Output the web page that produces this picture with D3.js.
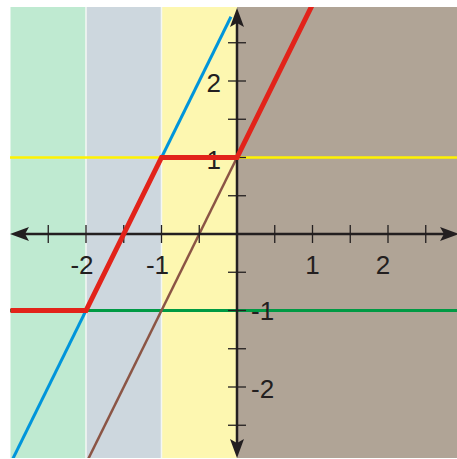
<!DOCTYPE html>
<meta charset="utf-8">
<script src="https://d3js.org/d3.v7.min.js"></script>
<style>
  body { margin: 0; background: #fff; }
  text { font-family: "Liberation Sans", Arial, sans-serif; fill: #231f20; }
</style>
<body>
<div id="canvas"></div>
<script>
  // bands of the x axis and their fills
  var bandEdges = [-3, -2, -1, 0, 3];
  var bandColors = ["#bfead1", "#cdd7de", "#fdf7b0", "#b0a496"];

  // lines
  var bluePts = [[-3, -3], [-0.08, 2.84]];          // y = 2x + 3
  var brownPts = [[-2, -3], [0, 1]];                // y = 2x + 1
  var redPts = [[-3, -1], [-2, -1], [-1, 1], [0, 1], [1, 3]];
  var yellowY = 1;
  var greenY = -1;

  var ticks = [-2.5, -2, -1.5, -1, -0.5, 0.5, 1, 1.5, 2, 2.5];
  var xLabels = [-2, -1, 1, 2];
  var yLabels = [2, 1, -1, -2];

  var width = 457, height = 459;
  // plot box (note: "top" is reserved on window, so p-prefixed)
  var pL = 10, pR = 457, pT = 7, pB = 458;

  var svg = d3.select("#canvas").append("svg")
      .attr("width", width)
      .attr("height", height);

  var x = d3.scaleLinear().domain([-3, 3]).range([10.5, 463.5]);
  var y = d3.scaleLinear().domain([-3, 3]).range([463.5, 4.5]);

  svg.append("clipPath").attr("id", "clip")
    .append("rect")
      .attr("x", pL).attr("y", pT)
      .attr("width", pR - pL).attr("height", pB - pT);

  var g = svg.append("g").attr("clip-path", "url(#clip)");

  // bands
  g.selectAll(".band")
    .data(bandColors)
    .enter().append("rect")
      .attr("x", function(d, i) { return x(bandEdges[i]); })
      .attr("width", function(d, i) { return x(bandEdges[i + 1]) - x(bandEdges[i]); })
      .attr("y", pT)
      .attr("height", pB - pT)
      .attr("fill", function(d) { return d; });

  // thin white separators
  g.selectAll(".sep")
    .data([-2, -1])
    .enter().append("line")
      .attr("x1", function(d) { return x(d); })
      .attr("x2", function(d) { return x(d); })
      .attr("y1", pT).attr("y2", pB)
      .attr("stroke", "#f4f7f4")
      .attr("stroke-width", 1.5);

  // horizontal lines
  g.append("line")
      .attr("x1", pL).attr("x2", pR)
      .attr("y1", y(yellowY)).attr("y2", y(yellowY))
      .attr("stroke", "#fff200").attr("stroke-width", 2.5);
  g.append("line")
      .attr("x1", pL).attr("x2", pR)
      .attr("y1", y(greenY)).attr("y2", y(greenY))
      .attr("stroke", "#009a44").attr("stroke-width", 3);

  var line = d3.line()
      .x(function(d) { return x(d[0]); })
      .y(function(d) { return y(d[1]); });

  g.append("path").attr("d", line(bluePts))
      .attr("fill", "none").attr("stroke", "#0095da").attr("stroke-width", 3);
  g.append("path").attr("d", line(brownPts))
      .attr("fill", "none").attr("stroke", "#8b5545").attr("stroke-width", 2.5);

  // axes
  var ax = "#231f20";
  g.append("line")
      .attr("x1", pL + 10).attr("x2", pR - 8)
      .attr("y1", y(0)).attr("y2", y(0))
      .attr("stroke", ax).attr("stroke-width", 2.5);
  g.append("line")
      .attr("x1", x(0)).attr("x2", x(0))
      .attr("y1", pT + 10).attr("y2", pB - 10)
      .attr("stroke", ax).attr("stroke-width", 2.5);

  g.selectAll(".xt")
    .data(ticks)
    .enter().append("line")
      .attr("x1", function(d) { return x(d); })
      .attr("x2", function(d) { return x(d); })
      .attr("y1", y(0) - 9).attr("y2", y(0) + 9)
      .attr("stroke", ax).attr("stroke-width", 1.3);
  g.selectAll(".yt")
    .data(ticks)
    .enter().append("line")
      .attr("y1", function(d) { return y(d); })
      .attr("y2", function(d) { return y(d); })
      .attr("x1", x(0) - 9).attr("x2", x(0) + 9)
      .attr("stroke", ax).attr("stroke-width", 1.3);

  // arrow heads
  var cx = x(0), cy = y(0);
  var arrows = [
    [[pL, cy], [pL + 19, cy - 7], [pL + 15, cy], [pL + 19, cy + 7]],
    [[pR + 2, cy], [pR - 17, cy - 7], [pR - 13, cy], [pR - 17, cy + 7]],
    [[cx, pT + 1], [cx - 7, pT + 20], [cx, pT + 16], [cx + 7, pT + 20]],
    [[cx, pB], [cx - 7, pB - 19], [cx, pB - 15], [cx + 7, pB - 19]]
  ];
  g.selectAll(".arrow")
    .data(arrows)
    .enter().append("path")
      .attr("d", function(d) { return "M" + d.join("L") + "Z"; })
      .attr("fill", ax);

  // labels
  g.selectAll(".xl")
    .data(xLabels)
    .enter().append("text")
      .attr("x", function(d) { return x(d) + (d == 2 ? -5 : d < 0 ? -4 : 0); })
      .attr("y", 274)
      .attr("text-anchor", "middle")
      .attr("font-size", "26px")
      .text(function(d) { return d; });

  g.selectAll(".yl")
    .data(yLabels)
    .enter().append("text")
      .attr("x", function(d) { return d > 0 ? x(0) - 16 : x(0) + 14; })
      .attr("y", function(d) { return y(d) + (d > 0 ? 11 : d == -1 ? 9 : 11); })
      .attr("text-anchor", function(d) { return d > 0 ? "end" : "start"; })
      .attr("font-size", "26px")
      .text(function(d) { return d; });

  // red piecewise line on top
  g.append("path").attr("d", line(redPts))
      .attr("fill", "none").attr("stroke", "#e2231a").attr("stroke-width", 5);
</script>
</body>
